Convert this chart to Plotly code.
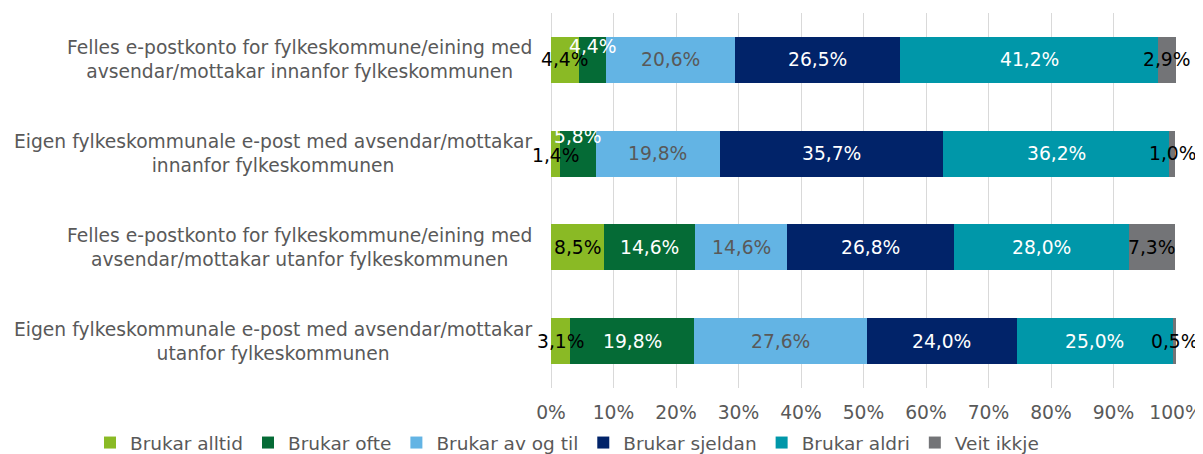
import plotly.graph_objects as go

categories = [
    "Felles e-postkonto for fylkeskommune/eining med<br>avsendar/mottakar innanfor fylkeskommunen",
    "Eigen fylkeskommunale e-post med avsendar/mottakar<br>innanfor fylkeskommunen",
    "Felles e-postkonto for fylkeskommune/eining med<br>avsendar/mottakar utanfor fylkeskommunen",
    "Eigen fylkeskommunale e-post med avsendar/mottakar<br>utanfor fylkeskommunen",
]
series_names = ["Brukar alltid", "Brukar ofte", "Brukar av og til",
                "Brukar sjeldan", "Brukar aldri", "Veit ikkje"]
brukar_alltid = [4.4, 1.4, 8.5, 3.1]
brukar_ofte = [4.4, 5.8, 14.6, 19.8]
brukar_av_og_til = [20.6, 19.8, 14.6, 27.6]
brukar_sjeldan = [26.5, 35.7, 26.8, 24.0]
brukar_aldri = [41.2, 36.2, 28.0, 25.0]
veit_ikkje = [2.9, 1.0, 7.3, 0.5]
tick_values = [0, 10, 20, 30, 40, 50, 60, 70, 80, 90, 100]
tick_labels = ["0%", "10%", "20%", "30%", "40%", "50%", "60%", "70%", "80%", "90%", "100%"]

series_values = [brukar_alltid, brukar_ofte, brukar_av_og_til,
                 brukar_sjeldan, brukar_aldri, veit_ikkje]
colors = ["#8aba25", "#056b36", "#63b4e4", "#012369", "#0097a9", "#737477"]
label_colors = ["#000000", "#ffffff", "#595959", "#ffffff", "#ffffff", "#000000"]
# vertical offsets (px) for labels that collide, as Excel places them
label_yshift = {(1, 0): 13, (1, 1): 17, (0, 1): -2}

FONT = "Verdana, DejaVu Sans, sans-serif"
FS = 18.7
GRAY = "#595959"

# page body has an 8px margin, so the figure is 8px smaller than the window
W, H = 1195, 446

fig = go.Figure()
for name, vals, col in zip(series_names, series_values, colors):
    fig.add_trace(go.Bar(
        name=name, y=categories, x=vals, orientation="h",
        marker=dict(color=col, line=dict(width=0)),
        hoverinfo="x+name",
    ))

annotations = []
cum = [0.0] * len(categories)
for si, vals in enumerate(series_values):
    for ci, v in enumerate(vals):
        annotations.append(dict(
            x=cum[ci] + v / 2, y=categories[ci], xref="x", yref="y",
            text=f"{v:.1f}".replace(".", ",") + "%",
            showarrow=False, font=dict(family=FONT, size=FS, color=label_colors[si]),
            yshift=label_yshift.get((si, ci), 0),
        ))
        cum[ci] += v

for c in categories:
    annotations.append(dict(
        x=0, y=c, xref="paper", yref="y", xanchor="right", xshift=-17,
        text=c, align="center", showarrow=False,
        font=dict(family=FONT, size=FS, color=GRAY),
    ))

fig.update_layout(
    barmode="stack",
    bargap=0.51,
    width=W, height=H,
    margin=dict(l=543, r=27, t=5, b=66, autoexpand=False),
    paper_bgcolor="white", plot_bgcolor="white",
    font=dict(family=FONT, size=FS, color=GRAY),
    xaxis=dict(range=[0, 100], tickvals=tick_values, ticktext=tick_labels,
               showgrid=True, gridcolor="#d9d9d9", gridwidth=1,
               zeroline=True, zerolinecolor="#d9d9d9", zerolinewidth=1,
               showline=False, ticks="", ticklabelstandoff=11, automargin=False,
               tickangle=0,
               tickfont=dict(family=FONT, size=FS, color=GRAY),
               fixedrange=True),
    yaxis=dict(autorange="reversed", showticklabels=False, showgrid=False,
               zeroline=False, showline=False, ticks="", fixedrange=True,
               automargin=False),
    legend=dict(orientation="h", x=-0.7376, xanchor="left", y=-0.1467,
                yanchor="middle",
                font=dict(family=FONT, size=18.5, color=GRAY),
                traceorder="normal", itemwidth=30),
    annotations=annotations,
    showlegend=True,
)

fig.write_html("out.html")
